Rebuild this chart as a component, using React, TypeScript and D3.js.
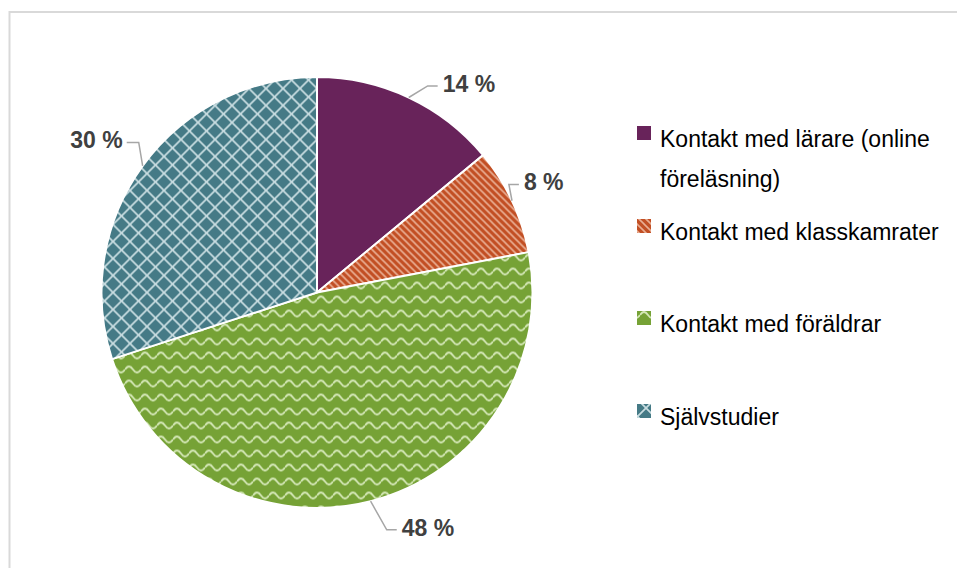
import React from "react";
import * as d3 from "d3";

const categories = [
  "Kontakt med lärare (online föreläsning)",
  "Kontakt med klasskamrater",
  "Kontakt med föräldrar",
  "Självstudier",
];
const values = [14, 8, 48, 30];
const legendLines = [
  ["Kontakt med lärare (online", "föreläsning)"],
  ["Kontakt med klasskamrater"],
  ["Kontakt med föräldrar"],
  ["Självstudier"],
];

// layout
const W = 957;
const H = 568;
const cx = 317;
const cy = 292.5;
const R = 215.5;
const fills = ["#68235a", "url(#pOrange)", "url(#pGreen)", "url(#pTeal)"];
// label nudges (layout) relative to default polar position
const labelNudge = [
  { da: 11, dr: 0 },
  { da: 0, dr: 0 },
  { da: -11, dr: 2 },
  { da: -1.5, dr: 10 },
];
const legendBaselines = [147, 240, 332, 425];

export default function App() {
  const pie = d3.pie<number>().sort(null).value((d) => d);
  const arcs = pie(values);
  const arcGen = d3.arc<d3.PieArcDatum<number>>().innerRadius(0).outerRadius(R);
  const total = d3.sum(values);
  const fmt = (v: number) => `${Math.round((v / total) * 100)} %`;

  const polar = (angDeg: number, r: number) => {
    const a = (angDeg * Math.PI) / 180;
    return [cx + r * Math.sin(a), cy - r * Math.cos(a)];
  };

  return (
    <div style={{ position: "absolute", left: 0, top: 0 }}>
      <svg width={W} height={H} style={{ display: "block" }}>
        <defs>
          <pattern id="pOrange" patternUnits="userSpaceOnUse" width={7} height={7}>
            <rect width={7} height={7} fill="#c24f24" />
            <path d="M-1,-1 L8,8 M-1,6 L1,8 M6,-1 L8,1" stroke="#e9ad92" strokeWidth={1.6} />
          </pattern>
          <pattern id="pGreen" patternUnits="userSpaceOnUse" width={16} height={14}>
            <rect width={16} height={14} fill="#76a236" />
            <path d="M0,7 Q4,1 8,7 T16,7" fill="none" stroke="#d5e8b8" strokeWidth={1.8} />
          </pattern>
          <pattern id="pTeal" patternUnits="userSpaceOnUse" width={17} height={17}>
            <rect width={17} height={17} fill="#457a86" />
            <path d="M0,0 L17,17 M17,0 L0,17" stroke="#c9dde1" strokeWidth={1.7} />
          </pattern>
        </defs>
        <rect x={0} y={0} width={W} height={H} fill="#ffffff" />
        <rect x={9.5} y={12} width={1000} height={700} fill="none" stroke="#d9d9d9" strokeWidth={2} />

        <g transform={`translate(${cx},${cy})`}>
          {arcs.map((a, i) => (
            <path key={i} d={arcGen(a) || ""} fill={fills[i]} stroke="#ffffff" strokeWidth={2} />
          ))}
        </g>

        {arcs.map((a, i) => {
          const mid = ((a.startAngle + a.endAngle) / 2) * (180 / Math.PI);
          const p0 = polar(mid, R);
          const lang = mid + labelNudge[i].da;
          const [lx, ly] = polar(lang, R + 43 + labelNudge[i].dr);
          const right = lx >= cx;
          const textW = 54;
          const tx = right ? lx - textW / 2 : lx + textW / 2;
          const ex = right ? tx - 5 : tx + 4;
          const ey = ly + 2;
          const elbowX = right ? ex - 10 : ex + 12;
          const pts = [p0, [elbowX, ey], [ex, ey]];
          return (
            <g key={"l" + i}>
              <polyline
                points={pts.map((p) => p.join(",")).join(" ")}
                fill="none"
                stroke="#a6a6a6"
                strokeWidth={1.5}
              />
              <text
                x={tx}
                y={ly + 8}
                textAnchor={right ? "start" : "end"}
                fontFamily="Liberation Sans, Arial, sans-serif"
                fontWeight="bold"
                fontSize={23}
                fill="#404040"
              >
                {fmt(values[i])}
              </text>
            </g>
          );
        })}

        {categories.map((c, i) => (
          <g key={"lg" + i}>
            <rect x={637} y={legendBaselines[i] - 21} width={14} height={14} fill={fills[i]} />
            {legendLines[i].map((t, j) => (
              <text
                key={j}
                x={660}
                y={legendBaselines[i] + j * 40}
                fontFamily="Liberation Sans, Arial, sans-serif"
                fontSize={23}
                fill="#000000"
              >
                {t}
              </text>
            ))}
          </g>
        ))}
      </svg>
    </div>
  );
}
